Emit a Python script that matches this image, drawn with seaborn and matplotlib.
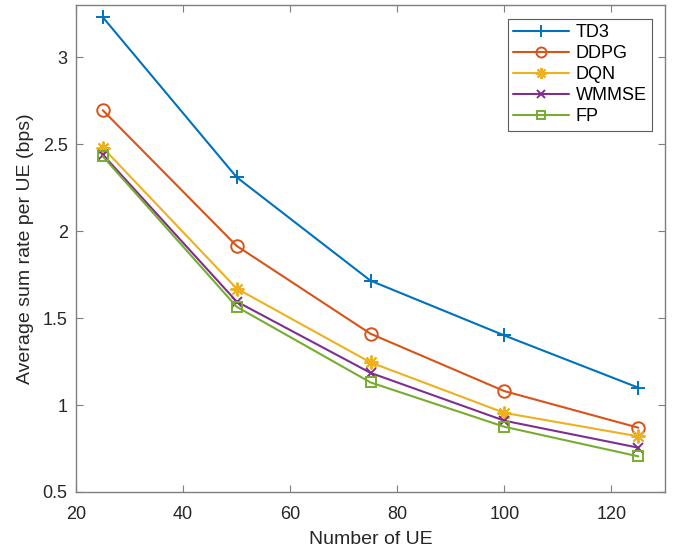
import numpy as np
import pandas as pd
import matplotlib
matplotlib.use("Agg")
import matplotlib.pyplot as plt
import seaborn as sns

# Number of UEs and average sum rate per UE for each scheme
num_ue = [25, 50, 75, 100, 125]
td3 = [3.23, 2.31, 1.715, 1.40, 1.10]
ddpg = [2.695, 1.915, 1.41, 1.08, 0.87]
dqn = [2.48, 1.67, 1.245, 0.955, 0.82]
wmmse = [2.44, 1.595, 1.185, 0.91, 0.755]
fp = [2.43, 1.565, 1.13, 0.875, 0.705]

schemes = ["TD3", "DDPG", "DQN", "WMMSE", "FP"]
series = [td3, ddpg, dqn, wmmse, fp]

colors = ["#0072BD", "#D95319", "#EDB120", "#7E2F8E", "#77AC30"]
markers = ["+", "o", (8, 2, 0), "x", "s"]
msizes = [10, 9, 10, 7, 7.5]

sns.set_theme(style="white")
plt.rcParams["font.family"] = ["Liberation Sans", "DejaVu Sans"]

df = pd.DataFrame({
    "ue": np.tile(num_ue, len(schemes)),
    "rate": np.concatenate(series),
    "scheme": np.repeat(schemes, len(num_ue)),
})

fig = plt.figure(figsize=(6.81, 5.56), dpi=100)
ax = fig.add_axes([76 / 681, 1 - 492 / 556, (665 - 76) / 681, (492 - 5) / 556])

for name, c, m, ms in zip(schemes, colors, markers, msizes):
    sub = df[df["scheme"] == name]
    sns.lineplot(data=sub, x="ue", y="rate", ax=ax, color=c, linewidth=1.5,
                 marker=m, markersize=ms, markerfacecolor="none",
                 markeredgecolor=c, markeredgewidth=1.4, label=name)

ax.set_xlim(20, 130)
ax.set_ylim(0.5, 3.3)
ax.set_xticks([20, 40, 60, 80, 100, 120])
ax.set_yticks([0.5, 1, 1.5, 2, 2.5, 3])
ax.set_yticklabels(["0.5", "1", "1.5", "2", "2.5", "3"])

axis_col = "#262626"
for s in ax.spines.values():
    s.set_visible(True)
    s.set_color("#7f7f7f")
    s.set_linewidth(1.0)
ax.tick_params(direction="in", length=5, width=0.8, colors="#7f7f7f",
               labelcolor=axis_col, labelsize=13, top=True, right=True,
               bottom=True, left=True)
ax.tick_params(axis="x", pad=10)
ax.tick_params(axis="y", pad=6)

ax.set_xlabel("Number of UE", fontsize=14, color=axis_col, labelpad=6)
ax.set_ylabel("Average sum rate per UE (bps)", fontsize=14, color=axis_col, labelpad=6)

leg = ax.legend(loc="upper left", bbox_to_anchor=((508 - 76) / 589, 1 - 14 / 487),
                fontsize=13, frameon=True, fancybox=False, handlelength=3.1,
                handletextpad=0.35, labelspacing=0.22, borderpad=0.3,
                borderaxespad=0.0, markerscale=0.8)
leg.get_frame().set_edgecolor("#333333")
leg.get_frame().set_linewidth(0.8)
for t in leg.get_texts():
    t.set_color("#000000")

fig.savefig("out.png", dpi=100)
